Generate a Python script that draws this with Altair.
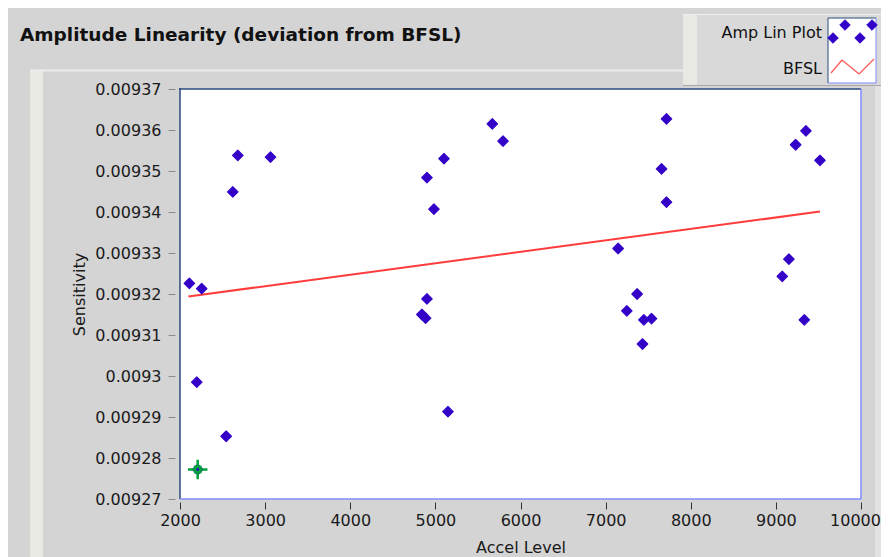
import altair as alt
import pandas as pd

# ---- data ----
accel = [2110, 2255, 2197, 2542, 2208, 2620, 2679, 3063, 4901, 4983, 5101, 4901,
         4842, 4885, 5148, 5669, 5795, 7715, 7657, 7715, 7147, 7370, 7249, 7449,
         7539, 7433, 9232, 9353, 9518, 9153, 9075, 9334]
sens = [0.0093226, 0.0093213, 0.0092985, 0.0092853, 0.0092772, 0.0093449, 0.0093538,
        0.0093534, 0.0093484, 0.0093407, 0.0093530, 0.0093188, 0.0093150, 0.0093141,
        0.0092913, 0.0093615, 0.0093573, 0.0093627, 0.0093505, 0.0093424, 0.0093311,
        0.0093200, 0.0093159, 0.0093137, 0.0093140, 0.0093078, 0.0093564, 0.0093598,
        0.0093526, 0.0093285, 0.0093243, 0.0093137]
bfsl_x = [2099, 9518]
bfsl_y = [0.0093194, 0.0093401]
cursor_x = [2208]
cursor_y = [0.0092772]
x_ticks = [2000, 3000, 4000, 5000, 6000, 7000, 8000, 9000, 10000]
y_ticks = [0.00927, 0.00928, 0.00929, 0.00930, 0.00931, 0.00932, 0.00933,
           0.00934, 0.00935, 0.00936, 0.00937]

W, H = 681, 410
FONT = "DejaVu Sans"
BLUE = "#3300c8"
RED = "#ff3c3c"
GREEN = "#00a03c"
DARK_BORDER = "#2c4a7c"
LIGHT_BORDER = "#7f8cff"

pts = pd.DataFrame({"Accel Level": accel, "Sensitivity": sens})
bfsl = pd.DataFrame({"Accel Level": bfsl_x, "Sensitivity": bfsl_y})
cur = pd.DataFrame({"Accel Level": cursor_x, "Sensitivity": cursor_y})
one = pd.DataFrame({"k": [0]})

xscale = alt.Scale(domain=[2000, 10000], nice=False, zero=False)
yscale = alt.Scale(domain=[0.00927, 0.00937], nice=False, zero=False)

x_enc = alt.X("Accel Level:Q", scale=xscale, axis=alt.Axis(
    values=x_ticks, format="d", title="Accel Level", offset=3, tickSize=7,
    tickColor="#333333", domain=False, grid=False, labelFont=FONT,
    labelFontSize=16, labelColor="#1a1a1a", labelPadding=3, labelFlush=False,
    labelOffset={"condition": {"test": "datum.value === 10000", "value": -6},
                 "value": 0},
    titleFont=FONT, titleFontSize=16, titleFontWeight="normal",
    titleColor="#1a1a1a", titlePadding=11, zindex=2))
y_enc = alt.Y("Sensitivity:Q", scale=yscale, axis=alt.Axis(
    values=y_ticks, format=".5~f", title="Sensitivity", offset=5, tickSize=7,
    tickColor="#8a8a8a", domain=False, grid=False, labelFont=FONT,
    labelFontSize=16, labelColor="#1a1a1a", labelPadding=7,
    titleFont=FONT, titleFontSize=16, titleFontWeight="normal",
    titleColor="#1a1a1a", titlePadding=7, zindex=2))


def rect(x, x2, y, y2, color):
    return alt.Chart(one).mark_rect(color=color).encode(
        x=alt.value(x), x2=alt.value(x2), y=alt.value(y), y2=alt.value(y2))


def rule(x, x2, y, y2, color, width=1):
    return alt.Chart(one).mark_rule(color=color, strokeWidth=width).encode(
        x=alt.value(x), x2=alt.value(x2), y=alt.value(y), y2=alt.value(y2))


def label(text, x, y, align="right", size=16, weight="normal"):
    return alt.Chart(one).mark_text(
        text=text, align=align, baseline="middle", font=FONT, fontSize=size,
        fontWeight=weight, color="#111111").encode(x=alt.value(x), y=alt.value(y))


# panel decorations (bevels around the graph frame)
deco = [
    rect(-150, -137, -18, 470, "#e9e9e4"),
    rule(-150, 504, -18.5, -18.5, "#ececec", 2),
    rect(695, 701, -3, 470, "#e2e2e2"),
    # legend panel
    rect(503, 705, -75, -3, "#d9d9d9"),
    rect(503, 517, -75, -3, "#e9e9e4"),
    rule(503, 705, -74.5, -74.5, "#efefef", 1),
    rule(503, 705, -3.5, -3.5, "#a8a8a8", 1),
    # legend swatch box
    rect(648, 696, -71, -6, "white"),
    rule(648, 648, -71, -6, DARK_BORDER),
    rule(648, 696, -71, -71, DARK_BORDER),
    rule(696, 696, -71, -6, LIGHT_BORDER),
    rule(648, 696, -6, -6, LIGHT_BORDER),
]

swatch_pts = [(653, -51), (665, -64), (680, -51), (692, -64)]
for sx, sy in swatch_pts:
    deco.append(alt.Chart(one).mark_point(
        shape="diamond", filled=True, size=110, color=BLUE, opacity=1,
        stroke=BLUE, strokeWidth=1, strokeJoin="round").encode(
        x=alt.value(sx), y=alt.value(sy)))
zig = [(651, -16), (662, -29), (679, -15), (694, -30)]
for (ax, ay), (bx, by) in zip(zig[:-1], zig[1:]):
    deco.append(rule(ax, bx, ay, by, "#ff5a5a", 1.3))

texts = [
    label("Amplitude Linearity (deviation from BFSL)", -160, -54, align="left",
          size=18.5, weight="bold"),
    label("Amp Lin Plot", 642, -56),
    label("BFSL", 642, -20),
]

# plot border
border = [
    rule(0, 0, -1, H, DARK_BORDER, 1.5),
    rule(-1, W, 0, 0, DARK_BORDER, 1.5),
    rule(W, W, 0, H, LIGHT_BORDER, 1.5),
    rule(0, W, H, H, LIGHT_BORDER, 1.5),
]

line = alt.Chart(bfsl).mark_line(color=RED, strokeWidth=2).encode(x=x_enc, y=y_enc)
points = alt.Chart(pts).mark_point(
    shape="diamond", filled=True, size=110, color=BLUE, opacity=1,
    stroke=BLUE, strokeWidth=1.2, strokeJoin="round").encode(
    x=alt.X("Accel Level:Q", scale=xscale), y=alt.Y("Sensitivity:Q", scale=yscale))
cross = alt.Chart(cur).mark_point(
    shape="M-1,0H1M0,-1V1", size=380, stroke=GREEN, strokeWidth=2.5,
    filled=False, opacity=1).encode(
    x=alt.X("Accel Level:Q", scale=xscale), y=alt.Y("Sensitivity:Q", scale=yscale))
square = alt.Chart(cur).mark_point(
    shape="square", size=60, color=GREEN, filled=True, opacity=1).encode(
    x=alt.X("Accel Level:Q", scale=xscale), y=alt.Y("Sensitivity:Q", scale=yscale))
center = alt.Chart(cur).mark_point(
    shape="circle", size=8, color=BLUE, filled=True, opacity=1).encode(
    x=alt.X("Accel Level:Q", scale=xscale), y=alt.Y("Sensitivity:Q", scale=yscale))

chart = alt.layer(
    *deco, line, points, cross, square, center, *border, *texts
).properties(
    width=W, height=H,
    padding={"left": 172, "top": 81, "right": 20, "bottom": 58},
    autosize=alt.AutoSizeParams(type="none"),
    background="#d4d4d4",
).configure_view(fill="white", stroke=None)

chart.save("out.html", embed_options={"renderer": "svg", "actions": False})
